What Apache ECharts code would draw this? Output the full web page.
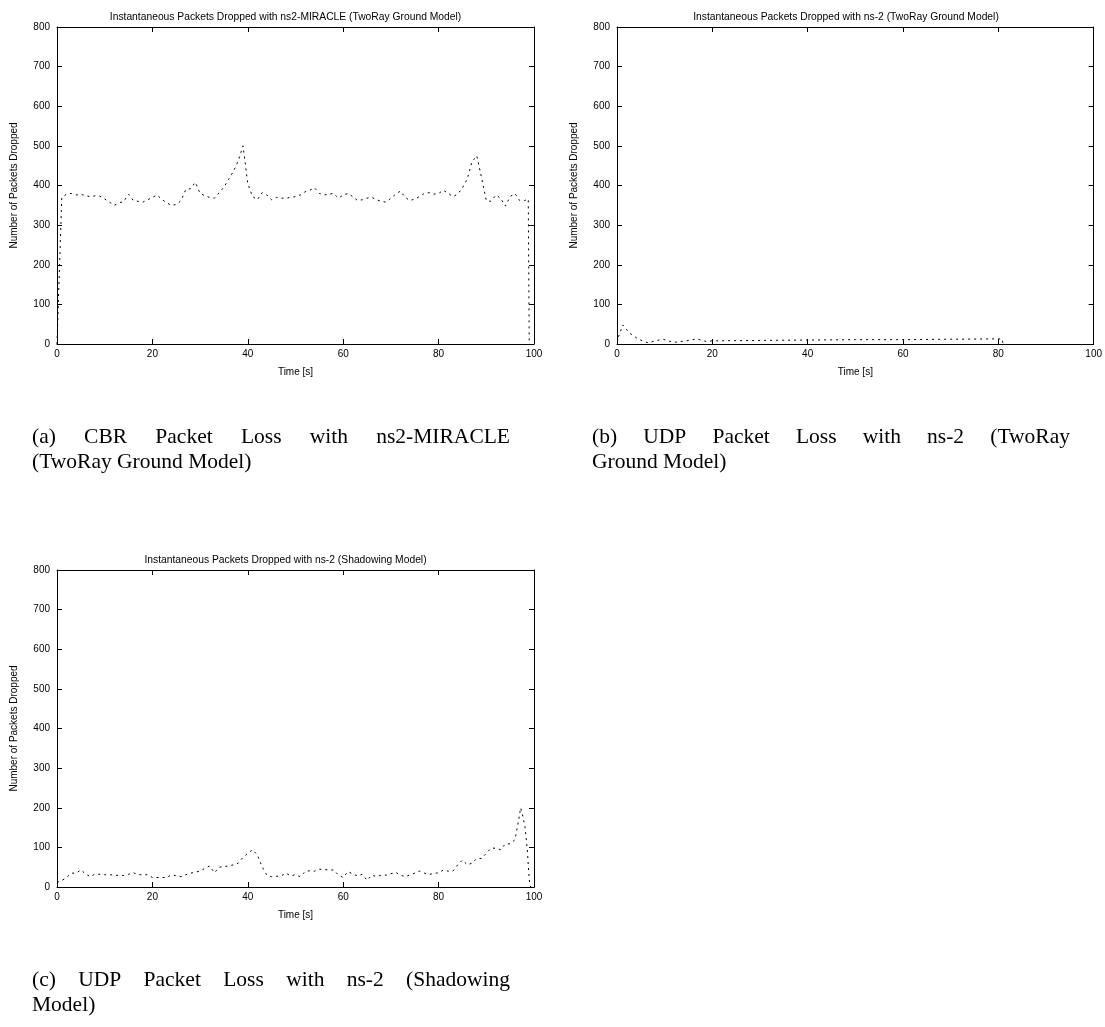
<!DOCTYPE html>
<html>
<head>
<meta charset="utf-8">
<title>Packets Dropped</title>
<script src="https://cdn.jsdelivr.net/npm/echarts@6/dist/echarts.min.js"></script>
<style>
  html, body { margin: 0; padding: 0; background: #fff; }
  #main { width: 1105px; height: 1027px; }
</style>
</head>
<body>
<div id="main"></div>
<script>
// (a) ns2-MIRACLE, TwoRay Ground
const timeA = [0, 1, 2, 3, 4, 5, 6, 7, 8, 9, 10, 11, 12, 13, 14, 15, 16, 17, 18, 19, 20,
  21, 22, 23, 24, 25, 26, 27, 28, 29, 30, 31, 32, 33, 34, 35, 36, 37, 38, 39, 40,
  41, 42, 43, 44, 45, 46, 47, 48, 49, 50, 51, 52, 53, 54, 55, 56, 57, 58, 59, 60,
  61, 62, 63, 64, 65, 66, 67, 68, 69, 70, 71, 72, 73, 74, 75, 76, 77, 78, 79, 80,
  81, 82, 83, 84, 85, 86, 87, 88, 89, 90, 91, 92, 93, 94, 95, 96, 97, 98, 98.8, 99]
const lossA = [0, 370, 378, 380, 376, 378, 374, 372, 374, 373, 366, 358, 350, 356, 360, 378, 362, 360, 358, 364, 370,
  376, 365, 356, 350, 352, 362, 390, 392, 408, 380, 374, 370, 368, 382, 396, 416, 436, 462, 500, 405,
  372, 364, 382, 376, 364, 370, 368, 368, 370, 372, 376, 384, 388, 394, 380, 376, 378, 380, 368, 376,
  380, 372, 362, 364, 368, 370, 364, 360, 358, 368, 378, 386, 370, 362, 366, 372, 380, 382, 378, 380,
  388, 380, 372, 378, 394, 416, 460, 475, 420, 362, 360, 376, 368, 348, 372, 380, 362, 362, 366, 0]

// (b) ns-2, TwoRay Ground
const timeB = [0.3, 1.2, 2.7, 4.5, 6.5, 8, 9.7, 11.8, 14.6, 16.7, 18.8, 20, 30, 40, 50, 60, 70, 80, 80.8, 81]
const lossB = [18, 48, 27, 12, 3, 8, 12, 4, 8, 13, 6, 8, 9, 10, 11, 11, 12, 13, 13, 0]

// (c) ns-2, Shadowing
const timeC = [0, 1, 2, 3, 4, 5, 6, 7, 8, 10, 11, 13, 14, 15, 16, 17, 19, 20, 22, 23, 24, 26, 27, 28, 30,
  31, 32, 33, 34, 36, 37, 38, 39, 40, 41, 42, 43, 44, 45, 47, 48, 49, 50, 51, 52, 53, 54, 55, 57, 58,
  59, 60, 61, 62, 63, 64, 65, 66, 67, 68, 69, 71, 72, 73, 75, 76, 77, 78, 80, 81, 82, 83, 84, 85, 86,
  87, 88, 89, 90, 91, 92, 93, 94, 95, 96, 96.8, 97.2, 97.6, 98.1, 98.6, 99, 99.3]
const lossC = [12, 16, 24, 35, 35, 43, 33, 26, 33, 31, 31, 29, 29, 32, 36, 31, 31, 24, 24, 24, 31, 26, 31, 35, 40,
  47, 53, 36, 50, 53, 56, 60, 75, 85, 94, 81, 51, 30, 26, 28, 35, 28, 31, 26, 39, 41, 40, 45, 43, 43,
  30, 24, 39, 33, 28, 32, 17, 30, 26, 30, 30, 37, 30, 26, 35, 40, 35, 32, 36, 43, 40, 40, 56, 68, 56,
  60, 72, 72, 85, 98, 98, 94, 109, 109, 119, 170, 200, 182, 153, 94, 18, 0]

const titles = [
  'Instantaneous Packets Dropped with ns2-MIRACLE (TwoRay Ground Model)',
  'Instantaneous Packets Dropped with ns-2 (TwoRay Ground Model)',
  'Instantaneous Packets Dropped with ns-2 (Shadowing Model)'
]
const captions = [
  ['(a) CBR Packet Loss with ns2-MIRACLE', '(TwoRay Ground Model)'],
  ['(b) UDP Packet Loss with ns-2 (TwoRay', 'Ground Model)'],
  ['(c) UDP Packet Loss with ns-2 (Shadowing', 'Model)']
]

const sans = 'Liberation Sans, Arial, sans-serif'
const capFont = '21.5px Liberation Serif, DejaVu Serif, serif'

// plot boxes
const boxes = [
  { left: 57, top: 27, width: 477, height: 317 },
  { left: 617, top: 27, width: 478, height: 317 },
  { left: 57, top: 570, width: 477, height: 317 }
]

function pairs(t, v) {
  return t.map((x, i) => [x, v[i]])
}

// justified first caption line, like LaTeX
const measure = document.createElement('canvas').getContext('2d')
measure.font = capFont
function justify(line, x, y, width) {
  const words = line.split(' ')
  const widths = words.map(w => measure.measureText(w).width)
  const total = widths.reduce((a, b) => a + b, 0)
  const gap = (width - total) / (words.length - 1)
  let out = []
  let cx = x
  words.forEach((w, i) => {
    out.push({ type: 'text', left: cx, top: y, style: { text: w, font: capFont, fill: '#000' } })
    cx += widths[i] + gap
  })
  return out
}

let chart = echarts.init(document.getElementById('main'), null, { renderer: 'canvas' })

let grids = []
let xAxes = []
let yAxes = []
let series = []
let titleList = []
let graphics = []
const datasets = [pairs(timeA, lossA), pairs(timeB, lossB), pairs(timeC, lossC)]

boxes.forEach((b, i) => {
  grids.push({ left: b.left, top: b.top, width: b.width, height: b.height, containLabel: false })
  const lineStyle = { color: '#000', width: 1 }
  const tick = { show: true, inside: true, length: 5, lineStyle: { color: '#000', width: 1 } }
  // bottom x
  xAxes.push({
    gridIndex: i, type: 'value', min: 0, max: 100, interval: 20, position: 'bottom',
    name: 'Time [s]', nameLocation: 'middle', nameGap: 23,
    nameTextStyle: { fontFamily: sans, fontSize: 10, color: '#000' },
    axisLine: { show: true, onZero: false, lineStyle },
    axisTick: tick,
    axisLabel: { margin: 5, fontFamily: sans, fontSize: 10, color: '#000' },
    splitLine: { show: false }
  })
  // top x (mirror ticks)
  xAxes.push({
    gridIndex: i, type: 'value', min: 0, max: 100, interval: 20, position: 'top',
    axisLine: { show: true, onZero: false, lineStyle },
    axisTick: tick,
    axisLabel: { show: false },
    splitLine: { show: false }
  })
  // left y
  yAxes.push({
    gridIndex: i, type: 'value', min: 0, max: 800, interval: 100, position: 'left',
    name: 'Number of Packets Dropped', nameLocation: 'middle', nameGap: 38, nameRotate: 90,
    nameTextStyle: { fontFamily: sans, fontSize: 10, color: '#000' },
    axisLine: { show: true, onZero: false, lineStyle },
    axisTick: tick,
    axisLabel: { margin: 7, fontFamily: sans, fontSize: 10, color: '#000' },
    splitLine: { show: false }
  })
  // right y (mirror ticks)
  yAxes.push({
    gridIndex: i, type: 'value', min: 0, max: 800, interval: 100, position: 'right',
    axisLine: { show: true, onZero: false, lineStyle },
    axisTick: tick,
    axisLabel: { show: false },
    splitLine: { show: false }
  })
  series.push({
    type: 'line',
    xAxisIndex: i * 2,
    yAxisIndex: i * 2,
    data: datasets[i],
    showSymbol: false,
    symbol: 'none',
    animation: false,
    lineStyle: { color: '#000', width: 1, type: [2, 4] }
  })
  titleList.push({
    text: titles[i],
    left: b.left + b.width / 2 - 15,
    top: b.top - 20,
    textAlign: 'center',
    textStyle: { fontFamily: sans, fontSize: 10.3, fontWeight: 'normal', color: '#000' }
  })
  // caption below each plot
  const capTop = b.top + 399
  graphics = graphics.concat(justify(captions[i][0], b.left - 25, capTop, 478))
  graphics.push({
    type: 'text',
    left: b.left - 25,
    top: capTop + 25,
    style: { text: captions[i][1], font: capFont, fill: '#000' }
  })
})

let option = {
  backgroundColor: '#fff',
  animation: false,
  title: titleList,
  grid: grids,
  xAxis: xAxes,
  yAxis: yAxes,
  series: series,
  graphic: graphics
}
chart.setOption(option)
</script>
</body>
</html>
